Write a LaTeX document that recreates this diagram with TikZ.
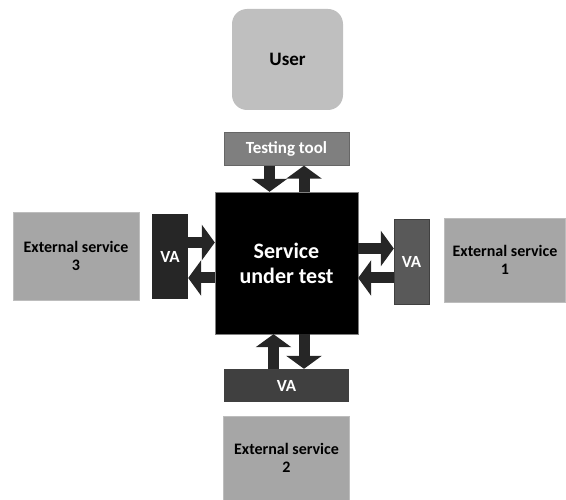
\documentclass[tikz,border=0pt]{standalone}
\usepackage{fontspec}
\setmainfont{Carlito}
\usetikzlibrary{positioning,arrows.meta}
\definecolor{vtUser}{HTML}{BFBFBF}
\definecolor{vtExt}{HTML}{A6A6A6}
\definecolor{vtExtEdge}{HTML}{BDBDBD}
\definecolor{vtTool}{HTML}{7F7F7F}
\definecolor{vtVaLight}{HTML}{595959}
\definecolor{vtVaMid}{HTML}{404040}
\definecolor{vtVaDark}{HTML}{262626}
\definecolor{vtArrow}{HTML}{262626}
\tikzset{
  ext/.style={
    draw=vtExtEdge, line width=0.6pt, fill=vtExt, inner sep=0pt,
    minimum width=#1, minimum height=86pt, align=center,
    font=\bfseries\fontsize{16}{18}\selectfont},
  ext/.default=126pt,
  va/.style={
    fill=#1, inner sep=0pt, text=white,
    font=\bfseries\fontsize{17}{20}\selectfont},
  blk/.style={draw=vtArrow, line width=11pt, -{Triangle[length=13pt,width=35pt]}},
}

\begin{document}
\begin{tikzpicture}[x=1pt, y=-1pt]
\useasboundingbox (0,0) rectangle (566,500);

\node[fill=vtUser, rounded corners=15pt, minimum width=111pt, minimum height=101pt,
      inner sep=0pt, font=\bfseries\fontsize{19}{22}\selectfont] (user) at (287.5,59.5) {User};
\node[va=vtTool, draw=vtTool!80!black, line width=0.4pt, minimum width=125pt, minimum height=33pt] (tool) at (286.5,149) {Testing tool};
\node[fill=black, draw=vtTool, line width=0.4pt, minimum width=143pt, minimum height=142pt, inner sep=0pt,
      text=white, align=center, font=\bfseries\fontsize{22}{25}\selectfont] (sut) at (286.5,263) {Service\\under test};

\node[va=vtVaDark, minimum width=36pt, minimum height=85pt] (lva) at (170,256.5) {VA};
\node[va=vtVaLight, draw=vtVaMid, line width=0.4pt, minimum width=35pt, minimum height=85pt] (rva) at (411.5,261.5) {VA};
\node[va=vtVaMid, minimum width=125pt, minimum height=33pt] (bva) at (286.5,385.5) {VA};

\node[ext, minimum height=88pt] (ext3) at (76,256) {External service\\3};
\node[ext=121pt, minimum height=84pt] (ext1) at (505,260) {External service\\1};
\node[ext, minimum height=84pt] (ext2) at (286.5,458) {External service\\2};

% testing tool <-> service
\draw[blk] ([xshift=-17pt]tool.south) -- ([xshift=-17pt]sut.north);
\draw[blk] ([xshift=17.5pt]sut.north) -- ([xshift=17.5pt]tool.south);
% bottom VA <-> service
\draw[blk] ([xshift=-13pt]bva.north) -- ([xshift=-13pt]sut.south);
\draw[blk] ([xshift=17.5pt]sut.south) -- ([xshift=17.5pt]bva.north);
% left VA <-> service
\draw[blk] ([yshift=20.5pt]sut.west -| lva.east) -- ([yshift=20.5pt]sut.west);
\draw[blk] ([yshift=-15pt]sut.west) -- ([yshift=-15pt]sut.west -| lva.east);
% right VA <-> service
\draw[blk] ([yshift=14.5pt]sut.east) -- ([yshift=14.5pt]sut.east -| rva.west);
\draw[blk] ([yshift=-15pt]sut.east -| rva.west) -- ([yshift=-15pt]sut.east);

\end{tikzpicture}
\end{document}
